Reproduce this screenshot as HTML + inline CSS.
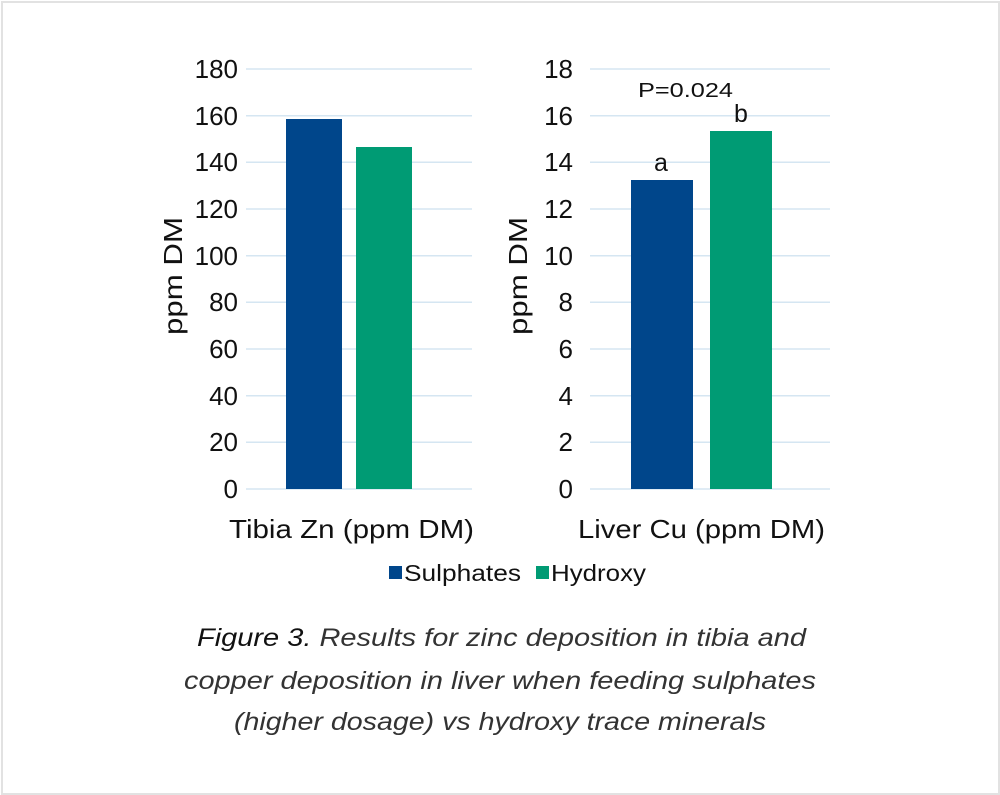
<!DOCTYPE html>
<html><head><style>
body{margin:0;background:#fff;}
.frame{position:absolute;left:1px;top:1px;width:995px;height:790px;border:2px solid #e2e2e2;}
svg{position:absolute;left:0;top:0;font-family:"Liberation Sans",sans-serif;}
</style></head><body>
<div class="frame"></div>
<svg width="1000" height="795">
<g stroke="#d5e6f2" stroke-width="1.5">
<line x1="246" x2="472" y1="69" y2="69"/><line x1="246" x2="472" y1="115.7" y2="115.7"/><line x1="246" x2="472" y1="162.3" y2="162.3"/><line x1="246" x2="472" y1="209" y2="209"/><line x1="246" x2="472" y1="255.7" y2="255.7"/><line x1="246" x2="472" y1="302.3" y2="302.3"/><line x1="246" x2="472" y1="349" y2="349"/><line x1="246" x2="472" y1="395.7" y2="395.7"/><line x1="246" x2="472" y1="442.3" y2="442.3"/><line x1="246" x2="472" y1="489" y2="489"/>
<line x1="590" x2="830" y1="69" y2="69"/><line x1="590" x2="830" y1="115.7" y2="115.7"/><line x1="590" x2="830" y1="162.3" y2="162.3"/><line x1="590" x2="830" y1="209" y2="209"/><line x1="590" x2="830" y1="255.7" y2="255.7"/><line x1="590" x2="830" y1="302.3" y2="302.3"/><line x1="590" x2="830" y1="349" y2="349"/><line x1="590" x2="830" y1="395.7" y2="395.7"/><line x1="590" x2="830" y1="442.3" y2="442.3"/><line x1="590" x2="830" y1="489" y2="489"/>
</g>
<rect x="286" y="119" width="56" height="370" fill="#00468b"/>
<rect x="356" y="147" width="56" height="342" fill="#009b74"/>
<rect x="631" y="180" width="62" height="309" fill="#00468b"/>
<rect x="710" y="131" width="62" height="358" fill="#009b74"/>
<g font-size="26" fill="#111" text-anchor="end">
<text x="238" y="78">180</text><text x="238" y="125">160</text><text x="238" y="171">140</text><text x="238" y="218">120</text><text x="238" y="265">100</text><text x="238" y="311">80</text><text x="238" y="358">60</text><text x="238" y="405">40</text><text x="238" y="451">20</text><text x="238" y="498">0</text>
<text x="573" y="78">18</text><text x="573" y="125">16</text><text x="573" y="171">14</text><text x="573" y="218">12</text><text x="573" y="265">10</text><text x="573" y="311">8</text><text x="573" y="358">6</text><text x="573" y="405">4</text><text x="573" y="451">2</text><text x="573" y="498">0</text>
</g>
<g font-size="26" fill="#111">
<text transform="translate(182,335) rotate(-90)" textLength="118" lengthAdjust="spacingAndGlyphs">ppm DM</text>
<text transform="translate(527,335) rotate(-90)" textLength="118" lengthAdjust="spacingAndGlyphs">ppm DM</text>
<text x="229" y="538" textLength="245" lengthAdjust="spacingAndGlyphs">Tibia Zn (ppm DM)</text>
<text x="578" y="538" textLength="247" lengthAdjust="spacingAndGlyphs">Liver Cu (ppm DM)</text>
</g>
<g font-size="25" fill="#111" text-anchor="middle">
<text x="661" y="171">a</text>
<text x="741" y="122">b</text>
</g>
<text x="638" y="97" font-size="20" fill="#111" textLength="95" lengthAdjust="spacingAndGlyphs">P=0.024</text>
<rect x="389" y="566" width="13" height="13" fill="#00468b"/>
<text x="404" y="581" font-size="23" fill="#111" textLength="117" lengthAdjust="spacingAndGlyphs">Sulphates</text>
<rect x="536" y="566" width="13" height="13" fill="#009b74"/>
<text x="551" y="581" font-size="23" fill="#111" textLength="95" lengthAdjust="spacingAndGlyphs">Hydroxy</text>
<g font-size="25" fill="#333" font-style="italic">
<text x="197" y="646" textLength="609" lengthAdjust="spacingAndGlyphs"><tspan fill="#111">Figure 3.</tspan> Results for zinc deposition in tibia and</text>
<text x="184" y="689" textLength="632" lengthAdjust="spacingAndGlyphs">copper deposition in liver when feeding sulphates</text>
<text x="234" y="730" textLength="532" lengthAdjust="spacingAndGlyphs">(higher dosage) vs hydroxy trace minerals</text>
</g>
</svg>
</body></html>
